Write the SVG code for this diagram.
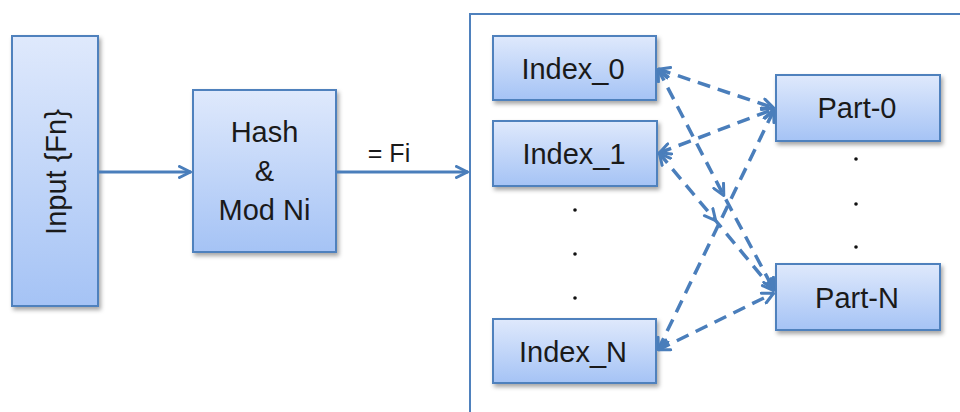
<svg xmlns="http://www.w3.org/2000/svg" width="960" height="412" viewBox="0 0 960 412">
  <defs>
    <linearGradient id="boxFill" x1="0" y1="0" x2="0" y2="1">
      <stop offset="0" stop-color="#dfe9fc"/>
      <stop offset="1" stop-color="#a5c3f5"/>
    </linearGradient>
    <filter id="shadow" x="-10%" y="-10%" width="130%" height="130%">
      <feDropShadow dx="2" dy="3" stdDeviation="2" flood-color="#000" flood-opacity="0.35"/>
    </filter>
    <marker id="head" viewBox="0 0 14 14" refX="13" refY="7" markerWidth="14" markerHeight="14" markerUnits="userSpaceOnUse" orient="auto-start-reverse">
      <path d="M1.5,1.5 L12.5,7 L1.5,12.5" fill="none" stroke="#4a7ebb" stroke-width="3" stroke-linecap="round" stroke-linejoin="round"/>
    </marker>
    <marker id="headMid" viewBox="0 0 14 14" refX="13" refY="7" markerWidth="14" markerHeight="14" markerUnits="userSpaceOnUse" orient="auto">
      <path d="M1.5,1.5 L12.5,7 L1.5,12.5" fill="none" stroke="#4a7ebb" stroke-width="3" stroke-linecap="round" stroke-linejoin="round"/>
    </marker>
  </defs>
  <style>
    .box { fill: url(#boxFill); stroke: #4f81bd; stroke-width: 2; filter: url(#shadow); }
    .label { font-family: "Liberation Sans", Arial, sans-serif; font-size: 29px; fill: #1a1a1a; text-anchor: middle; }
    .solid { stroke: #4a7ebb; stroke-width: 3; fill: none; marker-end: url(#head); }
    .dash { stroke: #4a7ebb; stroke-width: 3.5; fill: none; stroke-dasharray: 13 8; marker-start: url(#head); marker-end: url(#head); }
    .dot { fill: #111; }
  </style>
  <rect width="960" height="412" fill="#ffffff"/>

  <!-- partition container, open to the right and bottom -->
  <g id="container">
    <rect x="470" y="14" width="520" height="420" fill="none" stroke="#4f81bd" stroke-width="2"/>
  </g>

  <g id="input">
    <rect class="box" x="12" y="36" width="86" height="270"/>
    <text class="label" transform="translate(66,172) rotate(-90)" x="0" y="0">Input {Fn}</text>
  </g>

  <g id="hash">
    <rect class="box" x="193" y="90" width="143" height="162"/>
    <text class="label" x="264.5" y="142">Hash</text>
    <text class="label" x="264.5" y="181">&amp;</text>
    <text class="label" x="264.5" y="220">Mod Ni</text>
  </g>

  <g id="index0">
    <rect class="box" x="493" y="36" width="163" height="64"/>
    <text class="label" x="573" y="79">Index_0</text>
  </g>
  <g id="index1">
    <rect class="box" x="493" y="121" width="164" height="65"/>
    <text class="label" x="574" y="164">Index_1</text>
  </g>
  <g id="indexN">
    <rect class="box" x="493" y="319" width="163" height="64"/>
    <text class="label" x="573" y="362">Index_N</text>
  </g>
  <g id="part0">
    <rect class="box" x="776" y="75" width="164" height="66"/>
    <text class="label" x="857" y="118">Part-0</text>
  </g>
  <g id="partN">
    <rect class="box" x="776" y="264" width="164" height="66"/>
    <text class="label" x="857" y="308">Part-N</text>
  </g>

  <g id="ellipsis">
    <circle class="dot" cx="575" cy="210" r="1.8"/>
    <circle class="dot" cx="575" cy="254" r="1.8"/>
    <circle class="dot" cx="575" cy="298" r="1.8"/>
    <circle class="dot" cx="856" cy="159" r="1.8"/>
    <circle class="dot" cx="856" cy="204" r="1.8"/>
    <circle class="dot" cx="856" cy="247" r="1.8"/>
  </g>

  <g id="connectors">
    <line class="solid" x1="99" y1="172" x2="191" y2="172"/>
    <line class="solid" x1="337" y1="172" x2="468" y2="172"/>
    <text class="label" style="font-size:25px" x="389" y="162">= Fi</text>

    <line class="dash" x1="658" y1="69" x2="774" y2="108"/>
    <line class="dash" x1="659" y1="153" x2="774" y2="109"/>
    <line class="dash" x1="658" y1="350" x2="774" y2="110"/>
    <line class="dash" x1="658" y1="350" x2="774" y2="293"/>
    <polyline class="dash" style="marker-mid:url(#headMid)" points="658,69 724,196 774,290"/>
    <polyline class="dash" style="marker-mid:url(#headMid)" points="659,153 716,221 774,291"/>
  </g>
</svg>
